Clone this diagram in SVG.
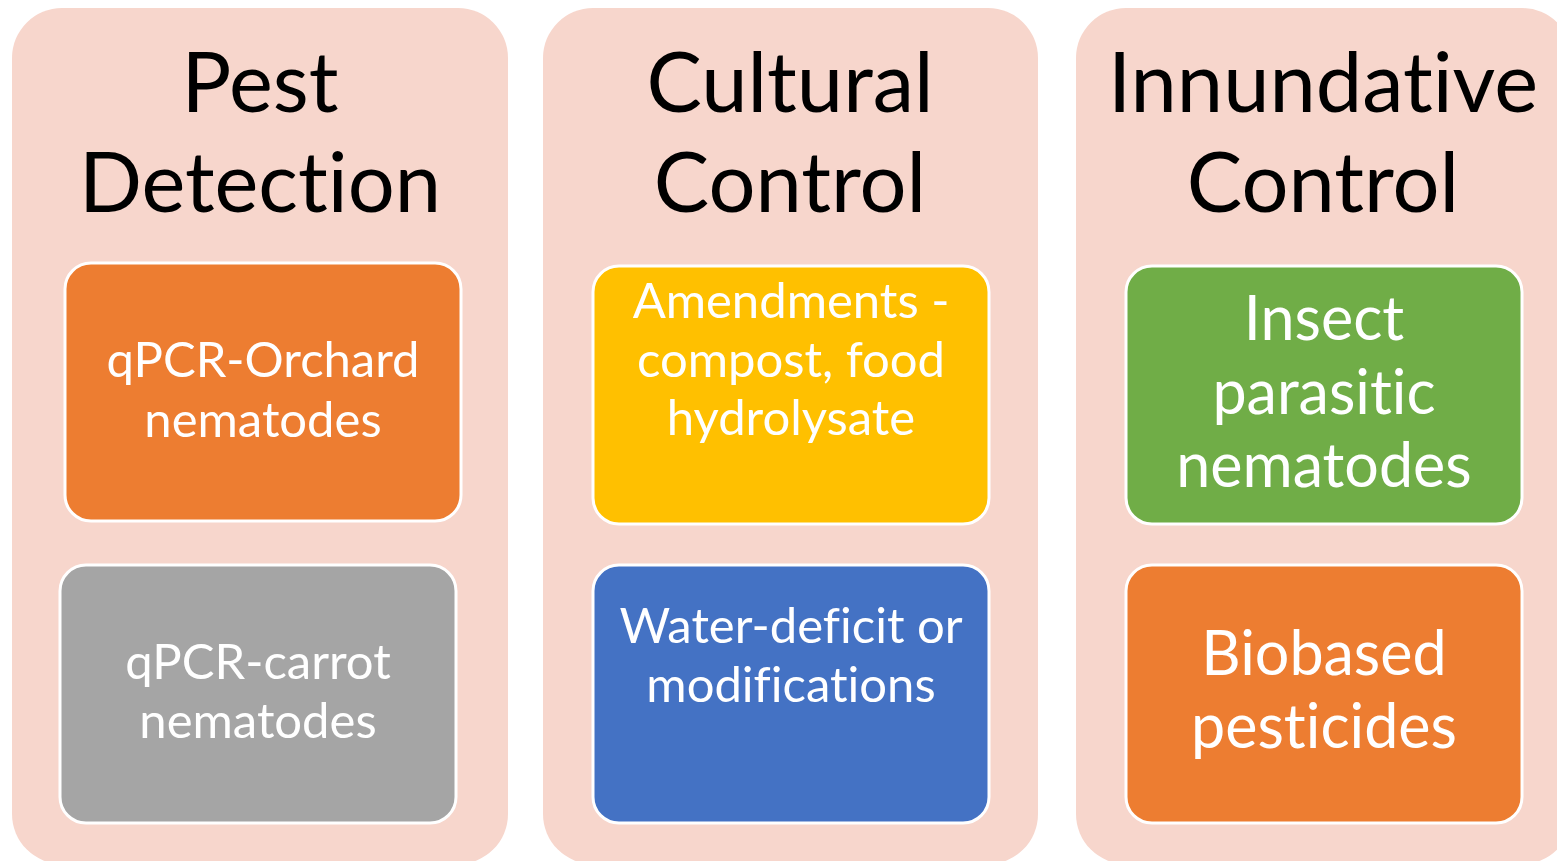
<svg xmlns="http://www.w3.org/2000/svg" width="1557" height="861" viewBox="0 0 1557 861">
<style>
.panel{fill:#F7D6CC;}
.box{stroke:#FFFFFF;stroke-width:3;}
text{font-variant-ligatures:none;font-feature-settings:"liga" 0,"clig" 0,"dlig" 0,"calt" 0;}
.title{font-family:Lato,"Open Sans",sans-serif;font-size:83px;fill:#000000;text-anchor:middle;}
.lbl{font-family:Lato,"Open Sans",sans-serif;font-size:49px;fill:#FFFFFF;text-anchor:middle;}
.lbl2{font-family:Lato,"Open Sans",sans-serif;font-size:61px;fill:#FFFFFF;text-anchor:middle;}
</style>
<rect width="1557" height="861" fill="#FFFFFF"/>
<g id="panel-pest-detection">
<rect class="panel" x="12" y="8" width="496" height="856" rx="50"/>
<text class="title" x="260" y="112">Pest</text>
<text class="title" x="260" y="212">Detection</text>
</g>
<g id="panel-cultural-control">
<rect class="panel" x="543" y="8" width="495" height="856" rx="50"/>
<text class="title" x="790" y="112">Cultural</text>
<text class="title" x="790" y="212">Control</text>
</g>
<g id="panel-innundative-control">
<rect class="panel" x="1076" y="8" width="496" height="856" rx="50"/>
<text class="title" x="1323" y="112">Innundative</text>
<text class="title" x="1323" y="212">Control</text>
</g>
<g id="node-qpcr-orchard">
<rect class="box" x="65" y="263" width="396" height="258" rx="26" fill="#ED7D31"/>
<text class="lbl" x="263" y="377">qPCR-Orchard</text>
<text class="lbl" x="263" y="437">nematodes</text>
</g>
<g id="node-qpcr-carrot">
<rect class="box" x="60" y="565" width="396" height="258" rx="26" fill="#A5A5A5"/>
<text class="lbl" x="258" y="679">qPCR-carrot</text>
<text class="lbl" x="258" y="738">nematodes</text>
</g>
<g id="node-amendments">
<rect class="box" x="593" y="266" width="396" height="258" rx="26" fill="#FFC000"/>
<text class="lbl" x="791" y="318">Amendments -</text>
<text class="lbl" x="791" y="377">compost, food</text>
<text class="lbl" x="791" y="435">hydrolysate</text>
</g>
<g id="node-water-deficit">
<rect class="box" x="593" y="565" width="396" height="258" rx="26" fill="#4472C4"/>
<text class="lbl" x="791" y="643">Water-deficit or</text>
<text class="lbl" x="791" y="702">modifications</text>
</g>
<g id="node-insect-parasitic">
<rect class="box" x="1126" y="266" width="396" height="258" rx="26" fill="#70AD47"/>
<text class="lbl2" x="1324" y="340">Insect</text>
<text class="lbl2" x="1324" y="414">parasitic</text>
<text class="lbl2" x="1324" y="487">nematodes</text>
</g>
<g id="node-biobased">
<rect class="box" x="1126" y="565" width="396" height="258" rx="26" fill="#ED7D31"/>
<text class="lbl2" x="1324" y="675">Biobased</text>
<text class="lbl2" x="1324" y="748">pesticides</text>
</g>
<g id="connectors"/>
</svg>
